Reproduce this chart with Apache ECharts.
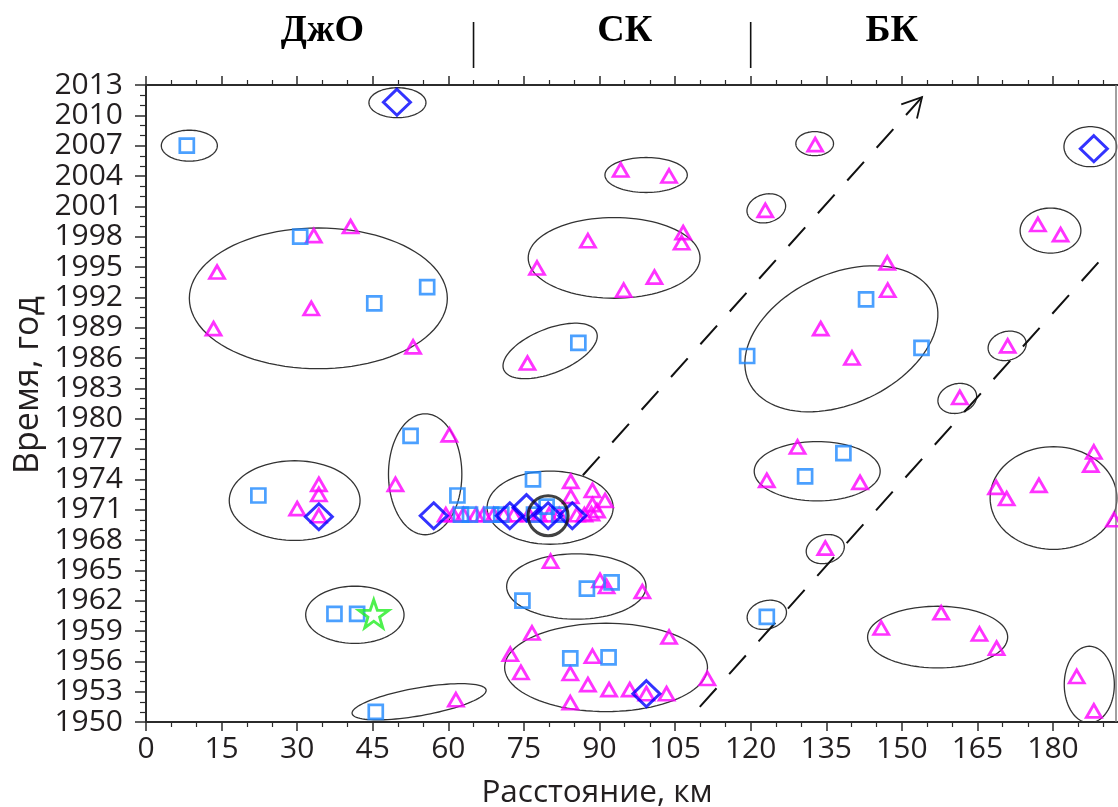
<!DOCTYPE html>
<html>
<head>
<meta charset="utf-8">
<script src="https://cdn.jsdelivr.net/npm/echarts@6/dist/echarts.min.js"></script>
<style>
  html, body { margin: 0; padding: 0; background: #fff; }
  #chart { width: 1118px; height: 807px; }
</style>
</head>
<body>
<div id="chart"></div>
<script>
// Events: [distance km, year]
const triangles = [
  [33.3, 1998.1], [40.6, 1999.0], [14.1, 1994.5], [13.4, 1988.9], [32.8, 1990.9], [53.0, 1987.1],
  [94.2, 2004.6], [103.8, 2004.0], [122.9, 2000.6],
  [87.7, 1997.6], [77.6, 1994.9], [106.6, 1998.4], [106.3, 1997.4], [100.9, 1994.0], [94.8, 1992.7],
  [75.7, 1985.5],
  [132.8, 2007.1], [177.0, 1999.2], [181.5, 1998.2], [147.1, 1995.4], [147.2, 1992.7],
  [133.9, 1988.9], [140.1, 1986.0], [171.0, 1987.2], [161.5, 1982.1],
  [129.3, 1977.2], [141.7, 1973.7], [123.2, 1973.9], [134.8, 1967.2],
  [188.1, 1976.7], [187.5, 1975.4], [177.2, 1973.4], [168.7, 1973.2], [170.8, 1972.1], [192.1, 1970.0],
  [145.9, 1959.3], [157.8, 1960.8], [165.4, 1958.7], [168.8, 1957.3], [184.7, 1954.5], [188.1, 1951.1],
  [60.2, 1978.4], [49.5, 1973.5], [34.3, 1973.5], [34.3, 1972.5], [30.0, 1971.1], [34.3, 1970.4],
  [84.3, 1973.8], [88.6, 1972.9], [84.3, 1972.3], [91.1, 1971.9], [88.6, 1971.5], [88.4, 1970.6], [89.5, 1970.9],
  [59.5, 1970.5], [61.0, 1970.5], [63.0, 1970.5], [65.5, 1970.5], [67.0, 1970.5], [69.0, 1970.5],
  [71.0, 1970.5], [73.0, 1970.5], [76.0, 1970.5], [78.0, 1970.5], [80.0, 1970.5], [82.0, 1970.5],
  [85.5, 1970.5], [87.0, 1970.5],
  [80.3, 1965.9], [90.1, 1964.0], [91.4, 1963.4], [98.5, 1962.9],
  [76.6, 1958.8], [72.3, 1956.7], [74.4, 1954.9], [84.2, 1954.8], [88.6, 1956.5], [87.7, 1953.7],
  [91.9, 1953.2], [96.0, 1953.2], [103.3, 1952.8], [103.8, 1958.4], [111.4, 1954.3], [84.2, 1951.9],
  [99.3, 1952.8], [61.5, 1952.2]
];
const squares = [
  [8.1, 2007.0], [30.6, 1998.0], [45.3, 1991.4], [55.8, 1993.0], [85.8, 1987.5], [119.3, 1986.2],
  [142.9, 1991.8], [153.9, 1987.0], [138.4, 1976.6], [130.8, 1974.3], [52.5, 1978.3], [61.8, 1972.4],
  [22.3, 1972.4], [76.8, 1974.0], [37.4, 1960.7], [41.9, 1960.7], [87.5, 1963.2], [92.4, 1963.8],
  [74.7, 1962.0], [123.2, 1960.4], [84.2, 1956.3], [91.8, 1956.4], [45.6, 1951.0],
  [62.5, 1970.5], [64.3, 1970.5], [68.5, 1970.5], [70.5, 1970.5], [77.0, 1970.5], [79.5, 1971.3], [82.0, 1970.5]
];
const diamonds = [
  [49.8, 2011.3], [188.1, 2006.7], [34.3, 1970.3], [57.1, 1970.4], [72.2, 1970.4],
  [75.5, 1971.2], [79.8, 1970.4], [84.6, 1970.4], [99.3, 1952.8]
];
const stars = [[45.2, 1960.7]];
const circled = [[79.8, 1970.4]];

// Groups: [centre km, centre year, semi-axis km, semi-axis years, tilt deg]
const groups = [
  [49.9, 2011.25, 5.66, 1.48, 0],
  [8.6, 2007.0, 5.56, 1.53, 0],
  [34.2, 1991.9, 25.6, 6.96, 0],
  [99.25, 2004.1, 8.17, 1.73, 0],
  [123.1, 2000.8, 3.9, 1.4, 15],
  [92.9, 1995.9, 17.05, 3.99, 0],
  [80.2, 1986.7, 9.93, 2.18, 22],
  [161.0, 1982.0, 3.9, 1.45, 15],
  [138.0, 1987.9, 20.26, 6.43, 25],
  [170.9, 1987.2, 3.84, 1.42, 15],
  [132.7, 2007.2, 3.74, 1.19, 0],
  [187.4, 2006.9, 5.23, 1.98, 0],
  [179.5, 1998.6, 6.03, 2.23, 0],
  [133.2, 1974.8, 12.5, 2.93, 0],
  [134.8, 1967.1, 3.84, 1.4, 15],
  [180.1, 1972.15, 12.58, 5.08, 0],
  [157.1, 1958.4, 13.9, 3.05, 0],
  [187.2, 1953.7, 4.97, 3.79, 0],
  [55.4, 1974.5, 7.28, 5.98, 0],
  [29.5, 1971.9, 12.98, 3.94, 0],
  [41.45, 1960.6, 9.76, 2.83, 0],
  [54.2, 1952.0, 13.5, 1.38, 10],
  [80.2, 1971.2, 12.51, 3.62, 0],
  [85.4, 1963.4, 13.83, 3.23, 0],
  [123.2, 1960.6, 3.97, 1.4, 15],
  [91.3, 1955.4, 20.13, 4.37, 0]
];

// Migration trends: [km start, year start, km end, year end, arrow]
const trends = [
  [86.7, 1974.4, 154.0, 2011.8, 1],
  [109.9, 1951.5, 190.7, 1996.4, 0]
];

const zoneNames = ['ДжО', 'СК', 'БК'];
const zoneCentres = [35, 95, 148];
const zoneBorders = [65, 120];

const xTickStep = 15;
const yTickStep = 3;
const xMin = 0, xMax = 195, frameKm = 192.5;
const yMin = 1950, yMax = 2013;

const ink = '#231f20';
const axisInk = '#2b2b2b';
const font = '"Open Sans", "Noto Sans", sans-serif';

const chart = echarts.init(document.getElementById('chart'));

function ellipseItem(params, api) {
  const c = api.coord([api.value(0), api.value(1)]);
  const s = api.size([api.value(2), api.value(3)]);
  const a = s[0], b = s[1];
  const t = api.value(4) * Math.PI / 180;
  const pts = [];
  for (let i = 0; i <= 96; i++) {
    const u = 2 * Math.PI * i / 96;
    const x = a * Math.cos(u), y = b * Math.sin(u);
    pts.push([c[0] + x * Math.cos(t) + y * Math.sin(t), c[1] - x * Math.sin(t) + y * Math.cos(t)]);
  }
  return {
    type: 'polygon',
    shape: { points: pts },
    style: { fill: 'none', stroke: '#333', lineWidth: 1.3 }
  };
}

function trendItem(params, api) {
  const p0 = api.coord([api.value(0), api.value(1)]);
  const p1 = api.coord([api.value(2), api.value(3)]);
  const children = [{
    type: 'line',
    shape: { x1: p0[0], y1: p0[1], x2: p1[0], y2: p1[1] },
    style: { stroke: '#111', lineWidth: 2, lineDash: [25, 19] }
  }];
  if (api.value(4)) {
    const ang = Math.atan2(p0[1] - p1[1], p0[0] - p1[0]);
    const len = 22, spread = 0.5;
    const arm = d => [p1[0] + len * Math.cos(ang + d), p1[1] + len * Math.sin(ang + d)];
    children.push({
      type: 'polyline',
      shape: { points: [arm(-spread), [p1[0], p1[1]], arm(spread)] },
      style: { fill: 'none', stroke: '#111', lineWidth: 1.8 }
    });
  }
  return { type: 'group', children };
}

function zoneLabelItem(params, api) {
  const p = api.coord([api.value(0), yMax]);
  return {
    type: 'text',
    style: {
      text: zoneNames[params.dataIndex],
      x: p[0], y: p[1] - 54,
      fill: '#000',
      font: 'bold 38px "Liberation Serif", "DejaVu Serif", serif',
      align: 'center', verticalAlign: 'middle'
    }
  };
}

function zoneBorderItem(params, api) {
  const p = api.coord([api.value(0), yMax]);
  return {
    type: 'line',
    shape: { x1: p[0], y1: p[1] - 63, x2: p[0], y2: p[1] - 17 },
    style: { stroke: '#111', lineWidth: 1.6 }
  };
}

function frameItem(params, api) {
  const top = api.coord([api.value(0), yMax]);
  const bot = api.coord([api.value(0), yMin]);
  return {
    type: 'line',
    shape: { x1: top[0], y1: top[1], x2: bot[0], y2: bot[1] },
    style: { stroke: '#777', lineWidth: 1.4 }
  };
}

const xAxisCommon = {
  type: 'value',
  min: xMin, max: xMax, interval: xTickStep,
  splitLine: { show: false },
  axisLine: { onZero: false, lineStyle: { color: axisInk, width: 2 } },
  axisTick: { length: 9, lineStyle: { color: axisInk, width: 1.5 } },
  minorTick: { show: true, splitNumber: 3, length: 5, lineStyle: { color: axisInk, width: 1.2 } }
};

const hollow = (color, w) => ({ color: 'rgba(0,0,0,0)', borderColor: color, borderWidth: w });

chart.setOption({
  animation: false,
  backgroundColor: '#fff',
  grid: {
    left: 146, top: 85, bottom: 85, width: (xMax - xMin) * 5.039,
    containLabel: false, outerBoundsMode: 'none'
  },
  xAxis: [
    Object.assign({}, xAxisCommon, {
      position: 'bottom',
      axisLabel: {
        margin: 12, fontSize: 30, fontFamily: font, color: ink,
        formatter: v => (v <= 185 ? String(v) : '')
      }
    }),
    Object.assign({}, xAxisCommon, {
      position: 'top',
      axisLabel: { show: false }
    })
  ],
  yAxis: {
    type: 'value',
    min: yMin, max: yMax, interval: yTickStep,
    splitLine: { show: false },
    axisLine: { onZero: false, lineStyle: { color: axisInk, width: 2 } },
    axisTick: { length: 11, lineStyle: { color: axisInk, width: 1.5 } },
    minorTick: { show: true, splitNumber: 3, length: 6, lineStyle: { color: axisInk, width: 1.2 } },
    axisLabel: { margin: 23, fontSize: 30, fontFamily: font, color: ink, formatter: v => String(v) }
  },
  graphic: [
    {
      type: 'text', x: 597, y: 793,
      style: { text: 'Расстояние, км', font: '31.5px ' + font, fill: ink, align: 'center', verticalAlign: 'middle' }
    },
    {
      type: 'text', x: 28, y: 385, rotation: Math.PI / 2,
      style: { text: 'Время, год', font: '34px ' + font, fill: ink, align: 'center', verticalAlign: 'middle' }
    }
  ],
  series: [
    {
      type: 'custom', name: 'groups', data: groups, renderItem: ellipseItem,
      encode: { x: 0, y: 1 }, clip: true, silent: true, z: 1
    },
    {
      type: 'custom', name: 'trends', data: trends, renderItem: trendItem,
      encode: { x: [0, 2], y: [1, 3] }, clip: true, silent: true, z: 2
    },
    {
      type: 'custom', name: 'frame', data: [[frameKm, yMax]], renderItem: frameItem,
      encode: { x: 0, y: 1 }, clip: false, silent: true, z: 2
    },
    {
      type: 'custom', name: 'zones', data: zoneCentres.map(v => [v, yMax]), renderItem: zoneLabelItem,
      encode: { x: 0, y: 1 }, clip: false, silent: true, z: 3
    },
    {
      type: 'custom', name: 'borders', data: zoneBorders.map(v => [v, yMax]), renderItem: zoneBorderItem,
      encode: { x: 0, y: 1 }, clip: false, silent: true, z: 3
    },
    {
      type: 'scatter', name: 'triangles', data: triangles, symbol: 'triangle', symbolSize: [15, 13],
      itemStyle: hollow('#ff00ff', 2.8), silent: true, z: 4
    },
    {
      type: 'scatter', name: 'squares', data: squares, symbol: 'rect', symbolSize: 14,
      itemStyle: hollow('#1e88ff', 2.7), silent: true, z: 5
    },
    {
      type: 'scatter', name: 'diamonds', data: diamonds, symbol: 'diamond', symbolSize: [27, 26],
      itemStyle: hollow('#0000ff', 3), silent: true, z: 6
    },
    {
      type: 'scatter', name: 'star', data: stars,
      symbol: 'path://M50,0 L61.8,35.1 L98.9,35.1 L69,57.3 L79.4,92.7 L50,70.5 L20.6,92.7 L31,57.3 L1.1,35.1 L38.2,35.1 Z',
      symbolSize: [30, 28], itemStyle: hollow('#22ee22', 2.8), silent: true, z: 7
    },
    {
      type: 'scatter', name: 'circled', data: circled, symbol: 'circle', symbolSize: 40,
      itemStyle: hollow('#111', 3), silent: true, z: 8
    }
  ]
});
</script>
</body>
</html>
